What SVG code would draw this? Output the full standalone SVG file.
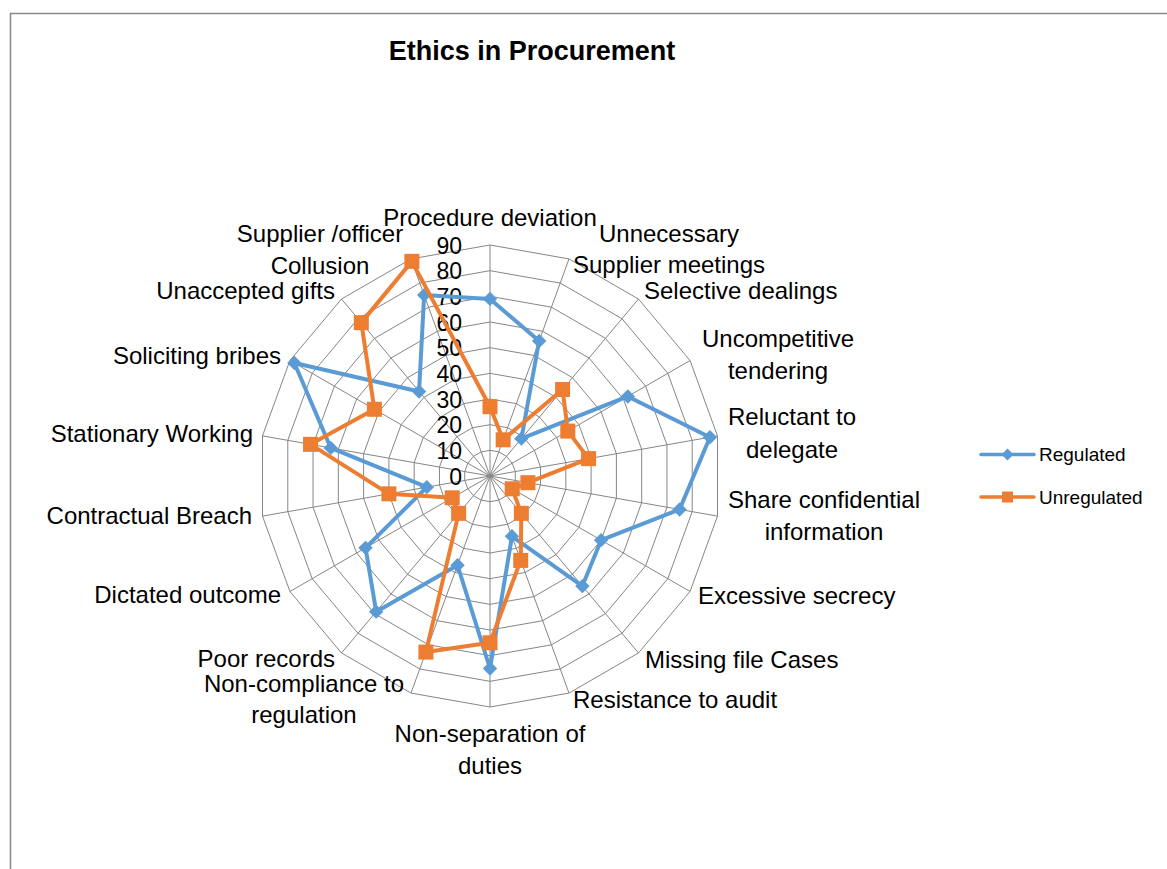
<svg xmlns="http://www.w3.org/2000/svg" xmlns:xlink="http://www.w3.org/1999/xlink" width="1167" height="869" viewBox="0 0 1167 869">
<style>
.grid{fill:none;stroke:#868686;stroke-width:1;vector-effect:non-scaling-stroke}
.spoke{stroke:#868686;stroke-width:1}
.tick{font-family:"Liberation Sans",Arial,sans-serif;font-size:23px;fill:#000;text-anchor:end}
.lbl{font-family:"Liberation Sans",Arial,sans-serif;font-size:24px;fill:#000}
.title{font-family:"Liberation Sans",Arial,sans-serif;font-size:27px;font-weight:bold;fill:#000;text-anchor:middle}
.leg{font-family:"Liberation Sans",Arial,sans-serif;font-size:19px;fill:#000}
.reg{fill:none;stroke:#5B9BD5;stroke-width:4;stroke-linejoin:round}
.unr{fill:none;stroke:#ED7D31;stroke-width:4;stroke-linejoin:round}
</style>
<defs>
<polygon id="ring" class="grid" points="0,-1 0.34202,-0.93969 0.64279,-0.76604 0.86603,-0.5 0.98481,-0.17365 0.98481,0.17365 0.86603,0.5 0.64279,0.76604 0.34202,0.93969 0,1 -0.34202,0.93969 -0.64279,0.76604 -0.86603,0.5 -0.98481,0.17365 -0.98481,-0.17365 -0.86603,-0.5 -0.64279,-0.76604 -0.34202,-0.93969"/>
<marker id="dia" markerUnits="userSpaceOnUse" markerWidth="18" markerHeight="18" refX="9" refY="9" viewBox="0 0 18 18">
<polygon points="9,1.8 16.2,9 9,16.2 1.8,9" fill="#5B9BD5"/>
</marker>
<marker id="sq" markerUnits="userSpaceOnUse" markerWidth="18" markerHeight="18" refX="9" refY="9" viewBox="0 0 18 18">
<rect x="1.5" y="1.5" width="15" height="15" fill="#ED7D31"/>
</marker>
</defs>
<rect x="0" y="0" width="1167" height="869" fill="#fff"/>
<path d="M10.5,869 V13.5 H1167" fill="none" stroke="#898989" stroke-width="1.5"/>
<text class="title" x="532" y="60">Ethics in Procurement</text>

<g id="grid">
<use xlink:href="#ring" transform="translate(490 476) scale(25.667)"/>
<use xlink:href="#ring" transform="translate(490 476) scale(51.333)"/>
<use xlink:href="#ring" transform="translate(490 476) scale(77)"/>
<use xlink:href="#ring" transform="translate(490 476) scale(102.667)"/>
<use xlink:href="#ring" transform="translate(490 476) scale(128.333)"/>
<use xlink:href="#ring" transform="translate(490 476) scale(154)"/>
<use xlink:href="#ring" transform="translate(490 476) scale(179.667)"/>
<use xlink:href="#ring" transform="translate(490 476) scale(205.333)"/>
<use xlink:href="#ring" transform="translate(490 476) scale(231)"/>
<g class="spoke">
<line x1="490" y1="476" x2="490" y2="245"/>
<line x1="490" y1="476" x2="569.01" y2="258.93"/>
<line x1="490" y1="476" x2="638.48" y2="299.04"/>
<line x1="490" y1="476" x2="690.05" y2="360.5"/>
<line x1="490" y1="476" x2="717.49" y2="435.89"/>
<line x1="490" y1="476" x2="717.49" y2="516.11"/>
<line x1="490" y1="476" x2="690.05" y2="591.5"/>
<line x1="490" y1="476" x2="638.48" y2="652.96"/>
<line x1="490" y1="476" x2="569.01" y2="693.07"/>
<line x1="490" y1="476" x2="490" y2="707"/>
<line x1="490" y1="476" x2="410.99" y2="693.07"/>
<line x1="490" y1="476" x2="341.52" y2="652.96"/>
<line x1="490" y1="476" x2="289.95" y2="591.5"/>
<line x1="490" y1="476" x2="262.51" y2="516.11"/>
<line x1="490" y1="476" x2="262.51" y2="435.89"/>
<line x1="490" y1="476" x2="289.95" y2="360.5"/>
<line x1="490" y1="476" x2="341.52" y2="299.04"/>
<line x1="490" y1="476" x2="410.99" y2="258.93"/>
</g>
</g>

<g id="ticks">
<text class="tick" x="462" y="484.5">0</text>
<text class="tick" x="462" y="458.8">10</text>
<text class="tick" x="462" y="433.2">20</text>
<text class="tick" x="462" y="407.5">30</text>
<text class="tick" x="462" y="381.8">40</text>
<text class="tick" x="462" y="356.2">50</text>
<text class="tick" x="462" y="330.5">60</text>
<text class="tick" x="462" y="304.8">70</text>
<text class="tick" x="462" y="279.2">80</text>
<text class="tick" x="462" y="253.5">90</text>
</g>

<g id="axis-labels" class="lbl">
<text id="lbl-procedure" x="490" y="226" text-anchor="middle">Procedure deviation</text>
<text id="lbl-unnecessary" text-anchor="middle"><tspan x="669" y="242">Unnecessary</tspan><tspan x="669" y="273">Supplier meetings</tspan></text>
<text id="lbl-selective" x="644" y="299">Selective dealings</text>
<text id="lbl-uncompetitive" text-anchor="middle"><tspan x="778" y="347">Uncompetitive</tspan><tspan x="778" y="379">tendering</tspan></text>
<text id="lbl-reluctant" text-anchor="middle"><tspan x="792" y="425">Reluctant to</tspan><tspan x="792" y="458">delegate</tspan></text>
<text id="lbl-share" text-anchor="middle"><tspan x="824" y="508">Share confidential</tspan><tspan x="824" y="540">information</tspan></text>
<text id="lbl-secrecy" x="698" y="604">Excessive secrecy</text>
<text id="lbl-missing" x="645" y="668">Missing file Cases</text>
<text id="lbl-audit" x="573" y="708">Resistance to audit</text>
<text id="lbl-separation" text-anchor="middle"><tspan x="490" y="742">Non-separation of</tspan><tspan x="490" y="774">duties</tspan></text>
<text id="lbl-compliance" text-anchor="middle"><tspan x="304" y="692">Non-compliance to</tspan><tspan x="304" y="723">regulation</tspan></text>
<text id="lbl-poor" x="335" y="667" text-anchor="end">Poor records</text>
<text id="lbl-dictated" x="281" y="603" text-anchor="end">Dictated outcome</text>
<text id="lbl-breach" x="252" y="524" text-anchor="end">Contractual Breach</text>
<text id="lbl-stationary" x="253" y="442" text-anchor="end">Stationary Working</text>
<text id="lbl-bribes" x="281" y="364" text-anchor="end">Soliciting bribes</text>
<text id="lbl-gifts" x="335" y="299" text-anchor="end">Unaccepted gifts</text>
<text id="lbl-collusion" text-anchor="middle"><tspan x="320" y="242">Supplier /officer</tspan><tspan x="320" y="274">Collusion</tspan></text>
</g>

<g id="series">
<polygon id="regulated" class="reg" marker-start="url(#dia)" marker-mid="url(#dia)" points="490,298.9 539.16,340.95 521.35,438.64 627.8,396.43 709.9,437.22 679.6,509.43 601.1,540.17 582.38,586.09 511.95,536.3 490,668.5 457.52,565.24 376.16,611.67 365.55,547.87 426.81,487.14 330.76,447.92 294.4,363.07 419.06,391.45 424.16,295.11"/>
<polygon id="unregulated" class="unr" marker-start="url(#sq)" marker-mid="url(#sq)" points="490,406.7 503.17,439.82 562.59,389.5 567.8,431.08 588.58,458.62 527.92,482.69 512.23,488.83 521.35,513.36 520.72,560.41 490,642.8 425.91,652.1 458.65,513.36 452.21,497.82 388.9,493.83 310.55,444.36 374.4,409.26 361.3,322.64 411.87,261.36"/>
</g>

<g id="legend">
<g id="legend-regulated">
<line x1="981" y1="454.5" x2="1034" y2="454.5" stroke="#5B9BD5" stroke-width="3.5" stroke-linecap="round"/>
<polygon points="1007.5,448.5 1013.5,454.5 1007.5,460.5 1001.5,454.5" fill="#5B9BD5"/>
<text class="leg" x="1039" y="461">Regulated</text>
</g>
<g id="legend-unregulated">
<line x1="981" y1="497" x2="1034" y2="497" stroke="#ED7D31" stroke-width="3.5" stroke-linecap="round"/>
<rect x="1002" y="491.5" width="11" height="11" fill="#ED7D31"/>
<text class="leg" x="1039" y="503.5">Unregulated</text>
</g>
</g>
</svg>
